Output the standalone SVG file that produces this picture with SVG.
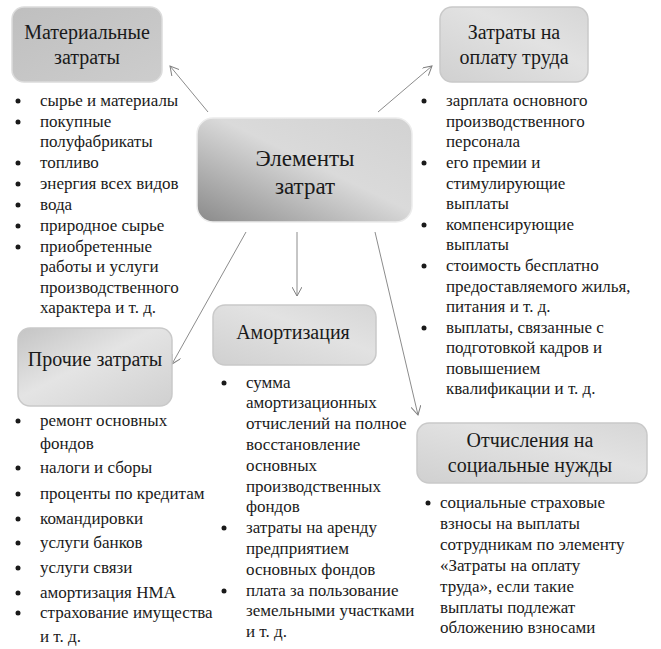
<svg xmlns="http://www.w3.org/2000/svg" width="661" height="649" viewBox="0 0 661 649" font-family="serif">
<defs>
<linearGradient id="gC" x1="0" y1="1" x2="1" y2="0">
<stop offset="0" stop-color="#8a8a8a"/>
<stop offset="0.55" stop-color="#dadada"/>
<stop offset="1" stop-color="#d2d2d2"/>
</linearGradient>
<linearGradient id="gM" x1="0" y1="0" x2="1" y2="1">
<stop offset="0" stop-color="#bfbfbf"/>
<stop offset="1" stop-color="#cdcdcd"/>
</linearGradient>
<linearGradient id="gL" x1="0" y1="1" x2="1" y2="0">
<stop offset="0" stop-color="#d0d0d0"/>
<stop offset="0.6" stop-color="#e2e2e2"/>
<stop offset="1" stop-color="#d6d6d6"/>
</linearGradient>
<linearGradient id="gP" x1="0" y1="0" x2="1" y2="1">
<stop offset="0" stop-color="#c4c4c4"/>
<stop offset="0.45" stop-color="#e4e4e4"/>
<stop offset="1" stop-color="#d0d0d0"/>
</linearGradient>
<marker id="ah" viewBox="0 0 10 10" refX="9" refY="5" markerWidth="10" markerHeight="10" markerUnits="userSpaceOnUse" orient="auto">
<path d="M0,0 L9,5 L0,10" fill="none" stroke="#7f7f7f" stroke-width="1"/>
</marker>
</defs>
<rect width="661" height="649" fill="#ffffff"/>
<g id="connectors" stroke="#8c8c8c" stroke-width="1" fill="none">
<line x1="208" y1="112" x2="170" y2="66" marker-end="url(#ah)"/>
<line x1="378" y1="112" x2="432" y2="66" marker-end="url(#ah)"/>
<line x1="246" y1="232" x2="172" y2="364" marker-end="url(#ah)"/>
<line x1="297" y1="232" x2="297" y2="296" marker-end="url(#ah)"/>
<line x1="375" y1="232" x2="418" y2="415" marker-end="url(#ah)"/>
</g>
<g id="center">
<rect x="197" y="118" width="215" height="104" rx="16" fill="url(#gC)" stroke="#ececec" stroke-width="1.5"/>
<text font-family="serif" font-size="23" fill="#1a1a1a" text-anchor="middle" x="305" y="166">Элементы</text>
<text font-family="serif" font-size="23" fill="#1a1a1a" text-anchor="middle" x="305" y="194">затрат</text>
</g>
<g id="material">
<rect x="12" y="7" width="150" height="75" rx="12" fill="url(#gM)" stroke="#dcdcdc" stroke-width="1.5"/>
<text font-family="serif" font-size="20" fill="#1a1a1a" text-anchor="middle" x="87" y="39">Материальные</text>
<text font-family="serif" font-size="20" fill="#1a1a1a" text-anchor="middle" x="87" y="64">затраты</text>
</g>
<g id="labor">
<rect x="440" y="7" width="148" height="75" rx="12" fill="url(#gL)" stroke="#c9c9c9" stroke-width="1.5"/>
<text font-family="serif" font-size="20" fill="#1a1a1a" text-anchor="middle" x="514" y="39">Затраты на</text>
<text font-family="serif" font-size="20" fill="#1a1a1a" text-anchor="middle" x="514" y="64">оплату труда</text>
</g>
<g id="other">
<rect x="18" y="328" width="154" height="78" rx="12" fill="url(#gP)" stroke="#c9c9c9" stroke-width="1.5"/>
<text font-family="serif" font-size="20" fill="#1a1a1a" text-anchor="middle" x="95" y="366">Прочие затраты</text>
</g>
<g id="amort">
<rect x="213" y="305" width="163" height="60" rx="12" fill="url(#gL)" stroke="#c9c9c9" stroke-width="1.5"/>
<text font-family="serif" font-size="20" fill="#1a1a1a" text-anchor="middle" x="293" y="339">Амортизация</text>
</g>
<g id="social">
<rect x="417" y="423" width="230" height="60" rx="12" fill="url(#gL)" stroke="#c9c9c9" stroke-width="1.5"/>
<text font-family="serif" font-size="20" fill="#1a1a1a" text-anchor="middle" x="530" y="447">Отчисления на</text>
<text font-family="serif" font-size="20" fill="#1a1a1a" text-anchor="middle" x="530" y="472">социальные нужды</text>
</g>
<g id="list-material" fill="#1a1a1a">
<circle cx="18" cy="101" r="2.5"/><text font-family="serif" font-size="17" x="40" y="106">сырье и материалы</text>
<circle cx="18" cy="122" r="2.5"/><text font-family="serif" font-size="17" x="40" y="127">покупные</text>
<text font-family="serif" font-size="17" x="40" y="147">полуфабрикаты</text>
<circle cx="18" cy="163" r="2.5"/><text font-family="serif" font-size="17" x="40" y="168">топливо</text>
<circle cx="18" cy="184" r="2.5"/><text font-family="serif" font-size="17" x="40" y="189">энергия всех  видов</text>
<circle cx="18" cy="205" r="2.5"/><text font-family="serif" font-size="17" x="40" y="210">вода</text>
<circle cx="18" cy="226" r="2.5"/><text font-family="serif" font-size="17" x="40" y="231">природное сырье</text>
<circle cx="18" cy="247" r="2.5"/><text font-family="serif" font-size="17" x="40" y="252">приобретенные</text>
<text font-family="serif" font-size="17" x="40" y="272">работы и услуги</text>
<text font-family="serif" font-size="17" x="40" y="293">производственного</text>
<text font-family="serif" font-size="17" x="40" y="313">характера и т. д.</text>
</g>
<g id="list-labor" fill="#1a1a1a">
<circle cx="424" cy="101" r="2.5"/><text font-family="serif" font-size="17" x="446" y="106">зарплата основного</text>
<text font-family="serif" font-size="17" x="446" y="127">производственного</text>
<text font-family="serif" font-size="17" x="446" y="147">персонала</text>
<circle cx="424" cy="163" r="2.5"/><text font-family="serif" font-size="17" x="446" y="168">его премии и</text>
<text font-family="serif" font-size="17" x="446" y="189">стимулирующие</text>
<text font-family="serif" font-size="17" x="446" y="209">выплаты</text>
<circle cx="424" cy="225" r="2.5"/><text font-family="serif" font-size="17" x="446" y="230">компенсирующие</text>
<text font-family="serif" font-size="17" x="446" y="250">выплаты</text>
<circle cx="424" cy="266" r="2.5"/><text font-family="serif" font-size="17" x="446" y="271">стоимость  бесплатно</text>
<text font-family="serif" font-size="17" x="446" y="292">предоставляемого жилья,</text>
<text font-family="serif" font-size="17" x="446" y="312">питания и т. д.</text>
<circle cx="424" cy="328" r="2.5"/><text font-family="serif" font-size="17" x="446" y="333">выплаты, связанные с</text>
<text font-family="serif" font-size="17" x="446" y="353">подготовкой кадров и</text>
<text font-family="serif" font-size="17" x="446" y="374">повышением</text>
<text font-family="serif" font-size="17" x="446" y="394">квалификации и т. д.</text>
</g>
<g id="list-other" fill="#1a1a1a">
<circle cx="18" cy="421" r="2.5"/><text font-family="serif" font-size="17" x="40" y="426">ремонт основных</text>
<text font-family="serif" font-size="17" x="40" y="449">фондов</text>
<circle cx="18" cy="468" r="2.5"/><text font-family="serif" font-size="17" x="40" y="473">налоги и сборы</text>
<circle cx="18" cy="494" r="2.5"/><text font-family="serif" font-size="17" x="40" y="499">проценты по кредитам</text>
<circle cx="18" cy="519" r="2.5"/><text font-family="serif" font-size="17" x="40" y="524">командировки</text>
<circle cx="18" cy="543" r="2.5"/><text font-family="serif" font-size="17" x="40" y="548">услуги банков</text>
<circle cx="18" cy="568" r="2.5"/><text font-family="serif" font-size="17" x="40" y="573">услуги связи</text>
<circle cx="18" cy="593" r="2.5"/><text font-family="serif" font-size="17" x="40" y="598">амортизация НМА</text>
<circle cx="18" cy="613" r="2.5"/><text font-family="serif" font-size="17" x="40" y="618">страхование имущества</text>
<text font-family="serif" font-size="17" x="40" y="642">и т. д.</text>
</g>
<g id="list-amort" fill="#1a1a1a">
<circle cx="224" cy="383" r="2.5"/><text font-family="serif" font-size="17" x="246" y="388">сумма</text>
<text font-family="serif" font-size="17" x="246" y="408">амортизационных</text>
<text font-family="serif" font-size="17" x="246" y="429">отчислений  на полное</text>
<text font-family="serif" font-size="17" x="246" y="450">восстановление</text>
<text font-family="serif" font-size="17" x="246" y="471">основных</text>
<text font-family="serif" font-size="17" x="246" y="492">производственных</text>
<text font-family="serif" font-size="17" x="246" y="512">фондов</text>
<circle cx="224" cy="528" r="2.5"/><text font-family="serif" font-size="17" x="246" y="533">затраты на аренду</text>
<text font-family="serif" font-size="17" x="246" y="554">предприятием</text>
<text font-family="serif" font-size="17" x="246" y="575">основных фондов</text>
<circle cx="224" cy="591" r="2.5"/><text font-family="serif" font-size="17" x="246" y="596">плата за пользование</text>
<text font-family="serif" font-size="17" x="246" y="616">земельными участками</text>
<text font-family="serif" font-size="17" x="246" y="637">и т. д.</text>
</g>
<g id="list-social" fill="#1a1a1a">
<circle cx="428" cy="503" r="2.5"/><text font-family="serif" font-size="17" x="440" y="508">социальные страховые</text>
<text font-family="serif" font-size="17" x="440" y="529">взносы на выплаты</text>
<text font-family="serif" font-size="17" x="440" y="550">сотрудникам по элементу</text>
<text font-family="serif" font-size="17" x="440" y="571">«Затраты на оплату</text>
<text font-family="serif" font-size="17" x="440" y="592">труда», если такие</text>
<text font-family="serif" font-size="17" x="440" y="613">выплаты подлежат</text>
<text font-family="serif" font-size="17" x="440" y="633">обложению взносами</text>
</g>
</svg>
